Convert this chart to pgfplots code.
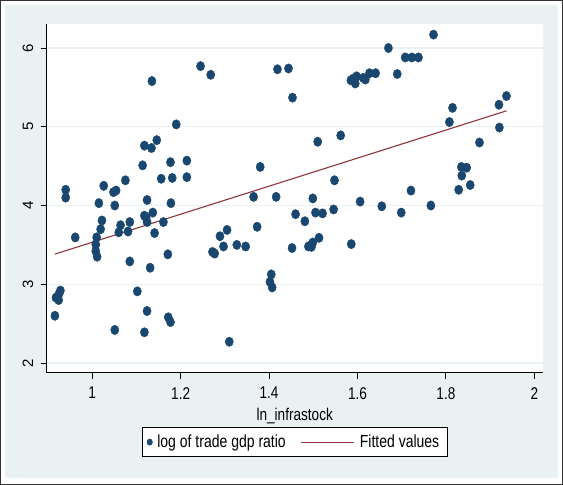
\documentclass[border=0pt]{standalone}
\usepackage{fontspec}
\setmainfont[FakeStretch=0.8]{Liberation Sans}
\newfontfamily\yfont{Liberation Sans}
\usepackage{pgfplots}
\pgfplotsset{compat=1.18}
\definecolor{stbg}{HTML}{EAF1F3}
\definecolor{stnavy}{HTML}{1A476F}
\definecolor{stmaroon}{HTML}{90353B}
\pgfplotsset{
  fitlegend/.style={legend image code/.code={\draw[##1] (0bp,0bp) -- (53bp,0bp);}},
  dotlegend/.style={legend image code/.code={\draw[mark repeat=2,mark phase=2,##1,mark size=2.6bp]
      plot coordinates {(0bp,0bp)(4bp,0bp)(8bp,0bp)};}},
}

\begin{document}
\begin{tikzpicture}
  % Stata-like outer background
  \fill[white] (0bp,0bp) rectangle (563bp,485bp);
  \fill[stbg] (5bp,7bp) rectangle (558bp,480bp);
  \draw[black!80, line width=1bp] (0.5bp,0.5bp) rectangle (562.5bp,484.5bp);
  \begin{axis}[
    at={(46.7bp,112.3bp)}, anchor=south west,
    scale only axis, width=496bp, height=348.7bp,
    xmin=0.897, xmax=2.019, ymin=1.877, ymax=6.305,
    axis background/.style={fill=white},
    axis x line*=bottom, axis y line*=left,
    axis line style={black, line width=0.8bp},
    tick align=outside, major tick length=6bp,
    tick style={black, line width=0.8bp},
    xtick={1,1.2,1.4,1.6,1.8,2}, ytick={2,3,4,5,6},
    ymajorgrids, grid style={stbg, line width=1.2bp},
    /pgf/number format/assume math mode=true,
    xticklabel shift=5bp, yticklabel shift=4bp,
    xticklabel style={font=\fontsize{17bp}{17bp}\selectfont},
    yticklabel style={font=\yfont\fontsize{15bp}{15bp}\selectfont, rotate=90, anchor=south},
    xlabel={ln\_infrastock},
    xlabel style={font=\fontsize{17bp}{17bp}\selectfont, yshift=-2bp},
    legend style={at={(0.5,-0.199)}, anchor=center, legend columns=2,
      draw=black, line width=0.8bp, font=\fontsize{17.5bp}{17.5bp}\selectfont,
      inner xsep=5bp, inner ysep=2bp,
      nodes={inner ysep=5.5bp, inner xsep=3bp},
      /tikz/every odd column/.append style={column sep=2bp},
      /tikz/every even column/.append style={column sep=12bp}},
    clip=false,
  ]
  \addplot[only marks, mark=*, mark size=4.1bp, mark options={draw=stnavy, fill=stnavy, yscale=1.15}, dotlegend]
  coordinates {
    (0.9156,2.60) (0.918,2.83) (0.921,2.84) (0.924,2.80) (0.925,2.88) (0.928,2.92)
    (0.940,4.20) (0.940,4.10) (0.9615,3.595) (1.010,3.595) (1.008,3.505) (1.008,3.42)
    (1.011,3.35) (1.015,4.03) (1.019,3.70) (1.022,3.81) (1.026,4.25) (1.048,4.17)
    (1.054,4.19) (1.051,4.00) (1.051,2.42) (1.060,3.66) (1.064,3.75) (1.075,4.32)
    (1.081,3.67) (1.085,3.79) (1.085,3.29) (1.102,2.91) (1.114,4.51) (1.118,4.76)
    (1.118,2.39) (1.118,3.87) (1.122,3.85) (1.124,3.79) (1.124,4.07) (1.124,2.66)
    (1.131,3.21) (1.134,4.73) (1.135,5.58) (1.137,3.91) (1.141,3.65) (1.146,4.83)
    (1.156,4.34) (1.161,3.79) (1.171,3.38) (1.172,2.58) (1.177,2.52) (1.178,4.03)
    (1.177,4.55) (1.181,4.35) (1.190,5.03) (1.214,4.57) (1.214,4.36) (1.245,5.77)
    (1.268,5.66) (1.272,3.41) (1.277,3.39) (1.289,3.61) (1.297,3.48) (1.305,3.69)
    (1.310,2.27) (1.327,3.50) (1.347,3.48) (1.365,4.11) (1.373,3.73) (1.380,4.49)
    (1.402,3.03) (1.405,3.125) (1.407,2.96) (1.416,4.11) (1.419,5.73) (1.444,5.74)
    (1.452,3.46) (1.453,5.37) (1.460,3.89) (1.481,3.80) (1.489,3.48) (1.496,3.475)
    (1.496,3.50) (1.499,3.53) (1.499,4.09) (1.505,3.91) (1.510,4.81) (1.513,3.59)
    (1.521,3.90) (1.546,3.95) (1.548,4.32) (1.562,4.89) (1.585,5.59) (1.586,3.51)
    (1.590,5.61) (1.595,5.55) (1.598,5.64) (1.606,4.05) (1.613,5.62) (1.618,5.60)
    (1.627,5.68) (1.641,5.68) (1.655,3.99) (1.670,6.00) (1.690,5.67) (1.699,3.91)
    (1.708,5.88) (1.721,4.19) (1.723,5.88) (1.738,5.88) (1.766,4.00) (1.772,6.17)
    (1.808,5.06) (1.815,5.24) (1.829,4.20) (1.835,4.49) (1.836,4.38) (1.847,4.48)
    (1.855,4.26) (1.876,4.80) (1.920,5.28) (1.921,4.99) (1.937,5.39)
  };
  \addlegendentry{log of trade gdp ratio}
  \addplot[stmaroon, line width=1.1bp, fitlegend]
  coordinates { (0.9156,3.383) (1.9375,5.203) };
  \addlegendentry{Fitted values}
  \end{axis}
\end{tikzpicture}
\end{document}
